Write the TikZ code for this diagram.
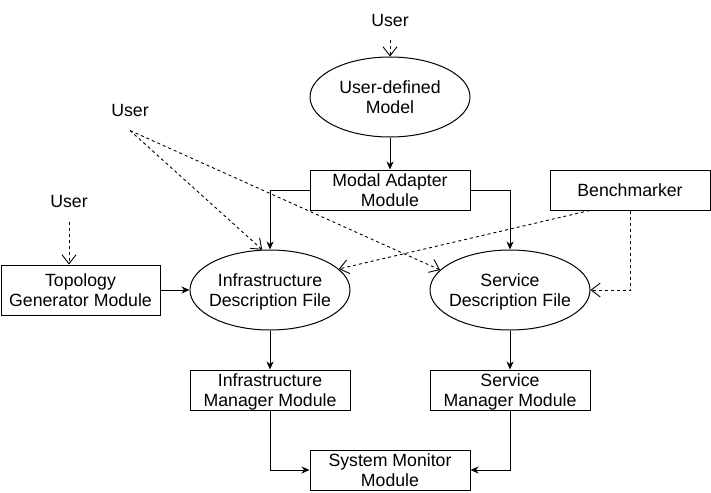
\documentclass[tikz,border=0pt]{standalone}
\usepackage{fontspec}
\setmainfont{Liberation Sans}
\usetikzlibrary{arrows.meta,shapes.geometric,calc}
\begin{document}
\begin{tikzpicture}[x=1pt,y=-1pt,
  every node/.style={font=\fontsize{17.7}{20}\selectfont, align=center},
  box/.style={draw, line width=1pt, minimum width=160pt, minimum height=40pt, inner sep=0pt, text depth=0pt},
  ell/.style={draw, ellipse, line width=1pt, minimum width=160pt, minimum height=80pt, inner ysep=0pt, inner xsep=-12pt, text depth=0pt},
  lbl/.style={inner xsep=0pt, inner ysep=14pt, text height=12.6pt, text depth=0pt},
  solidarrow/.style={line width=1pt, -{Stealth[length=8pt,width=7pt,inset=2.5pt]}},
  dasharrow/.style={line width=0.9pt, dash pattern=on 3pt off 3pt, -{Straight Barb[length=9pt,width=14pt]}},
]
\useasboundingbox (0,0) rectangle (711,492);
\node[lbl] (userA) at (390,20) {User};
\node[ell] (udm) at (390,97) {User-defined\\Model};
\node[box] (mam) at (390,190) {Modal Adapter\\Module};
\node[box] (bench) at (630,190) {Benchmarker};
\node[lbl] (userB) at (130,110) {User};
\node[lbl] (userC) at (69,201) {User};
\node[box, minimum width=159pt, minimum height=50pt] (topo) at (80.5,290) {Topology\\Generator Module};
\node[ell] (idf) at (270,290) {Infrastructure\\Description File};
\node[ell] (sdf) at (510,290) {Service\\Description File};
\node[box] (imm) at (270,390) {Infrastructure\\Manager Module};
\node[box] (smm) at (510,390) {Service\\Manager Module};
\node[box] (sysm) at (390,470) {System Monitor\\Module};

\coordinate (benchout) at ($(bench.south west)!0.25!(bench.south east)$);

\draw[dasharrow] (userA) -- (udm);
\draw[solidarrow] (udm) -- (mam);
\draw[solidarrow] (mam.west) -| (idf.north);
\draw[solidarrow] (mam.east) -| (sdf.north);
\draw[dasharrow] (userB.south) -- (idf.101);
\draw[dasharrow] (userB.south) -- (sdf.164);
\draw[dasharrow] (userC.south) -- (userC.south |- topo.north);
\draw[solidarrow] (topo) -- (idf);
\draw[dasharrow] (benchout) -- (idf.17);
\draw[dasharrow] (bench.south) |- (sdf.east);
\draw[solidarrow] (idf) -- (imm);
\draw[solidarrow] (sdf) -- (smm);
\draw[solidarrow] (imm.south) |- (sysm.west);
\draw[solidarrow] (smm.south) |- (sysm.east);
\end{tikzpicture}
\end{document}
